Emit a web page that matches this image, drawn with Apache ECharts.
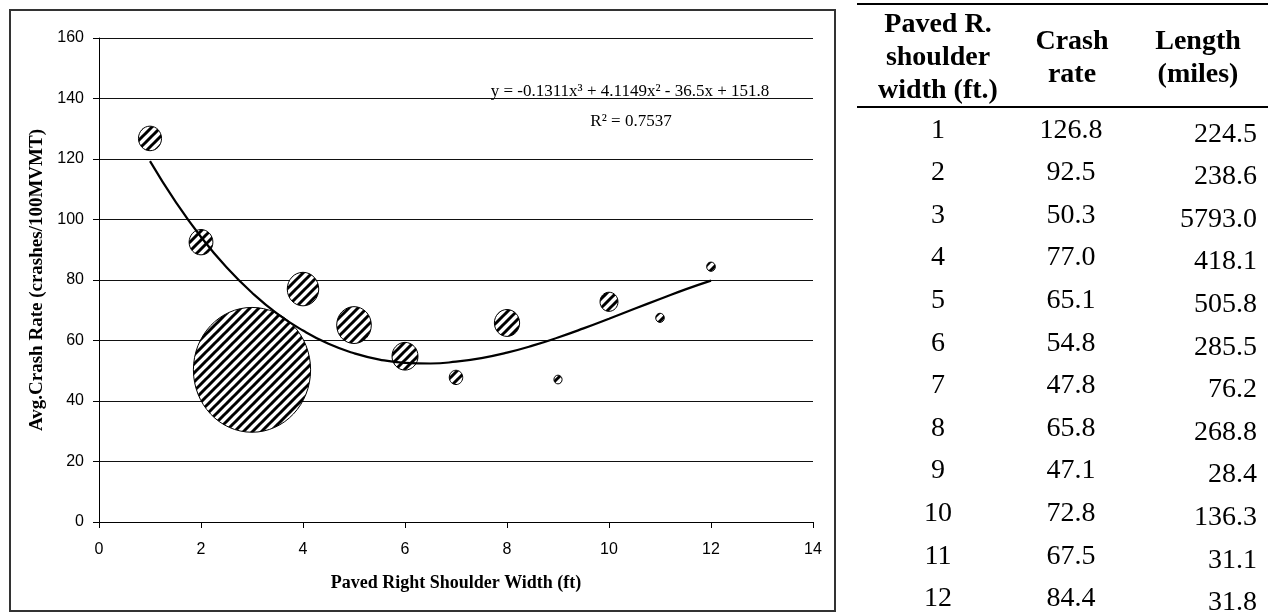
<!DOCTYPE html>
<html><head><meta charset="utf-8">
<script src="https://cdn.jsdelivr.net/npm/echarts@6/dist/echarts.min.js"></script>
<style>
html,body{margin:0;padding:0;background:#fff;}
#wrap{position:relative;width:1268px;height:616px;overflow:hidden;background:#fff;}
#chart{position:absolute;left:0;top:0;width:1268px;height:616px;}
#table{position:absolute;left:0;top:0;width:1268px;height:616px;font-family:"Liberation Serif","Times New Roman",serif;color:#000;pointer-events:none;}
.t{position:absolute;white-space:nowrap;font-size:28px;line-height:28px;}
.h{font-weight:bold;text-align:center;width:300px;}
.rule{position:absolute;background:#000;height:2px;}
</style></head><body>
<div id="wrap"><div id="chart"></div><div id="table"></div></div>
<script>
// ---- data ----
var shoulderWidths = [1, 2, 3, 4, 5, 6, 7, 8, 9, 10, 11, 12];
var crashRates = [126.8, 92.5, 50.3, 77.0, 65.1, 54.8, 47.8, 65.8, 47.1, 72.8, 67.5, 84.4];
var lengthsMiles = [224.5, 238.6, 5793.0, 418.1, 505.8, 285.5, 76.2, 268.8, 28.4, 136.3, 31.1, 31.8];
// trend curve
var trendX = [1, 1.5, 2, 2.5, 3, 3.5, 4, 4.5, 5, 5.5, 6, 6.5, 7, 7.5, 8, 8.5, 9, 9.5, 10, 10.5, 11, 11.5, 12];
var trendY = [119.3, 105.9, 94.2, 84.2, 75.8, 68.8, 63.3, 58.9, 55.8, 53.7, 52.6, 52.4, 53.0, 54.2, 56.0, 58.3, 61.0, 64.0, 67.2, 70.5, 73.7, 76.9, 79.8];
var equationText = 'y = -0.1311x\u00B3 + 4.1149x\u00B2 - 36.5x + 151.8';
var r2Text = 'R\u00B2 = 0.7537';
var xAxisTitle = 'Paved Right Shoulder Width (ft)';
var yAxisTitle = 'Avg.Crash Rate (crashes/100MVMT)';
var tableHeaders = [['Paved R.', 'shoulder', 'width (ft.)'], ['Crash', 'rate'], ['Length', '(miles)']];

// ---- stripe pattern ----
function makeStripe() {
  var n = 9, c = document.createElement('canvas');
  c.width = n; c.height = n;
  var g = c.getContext('2d');
  g.fillStyle = '#fff'; g.fillRect(0, 0, n, n);
  g.strokeStyle = '#000'; g.lineWidth = 3;
  g.beginPath();
  for (var k = -1; k <= 1; k++) { g.moveTo(k * n - 1, n + 1); g.lineTo(k * n + n + 1, -1); }
  g.stroke();
  return c;
}
var stripe = makeStripe();

var bubbleData = shoulderWidths.map(function (w, i) { return [w, crashRates[i], lengthsMiles[i]]; });
var trendData = trendX.map(function (x, i) { return [x, trendY[i]]; });

var chart = echarts.init(document.getElementById('chart'), null, { renderer: 'canvas' });
var serif = '"Liberation Serif", "Times New Roman", serif';
var sans = '"Liberation Sans", Arial, sans-serif';
chart.setOption({
  animation: false,
  grid: { left: 99, right: 455, top: 38, bottom: 94, containLabel: false },
  xAxis: {
    type: 'value', min: 0, max: 14, interval: 2,
    axisLine: { show: true, lineStyle: { color: '#000', width: 1 } },
    axisTick: { show: true, length: 6, inside: false, lineStyle: { color: '#000' } },
    axisLabel: { color: '#000', fontSize: 16, fontFamily: sans, margin: 20 },
    splitLine: { show: false },
    name: xAxisTitle, nameLocation: 'middle', nameGap: 52,
    nameTextStyle: { fontFamily: serif, fontWeight: 'bold', fontSize: 18, color: '#000' }
  },
  yAxis: {
    type: 'value', min: 0, max: 160, interval: 20,
    axisLine: { show: true, lineStyle: { color: '#000', width: 1 } },
    axisTick: { show: true, length: 6, inside: false, lineStyle: { color: '#000' } },
    axisLabel: { color: '#000', fontSize: 16, fontFamily: sans, margin: 15 },
    splitLine: { show: true, lineStyle: { color: '#111', width: 1 } },
    name: yAxisTitle, nameLocation: 'middle', nameGap: 51, nameRotate: 90,
    nameTextStyle: { fontFamily: serif, fontWeight: 'bold', fontSize: 19, color: '#000' }
  },
  series: [
    {
      type: 'custom', z: 3,
      data: bubbleData,
      encode: { x: 0, y: 1 },
      renderItem: function (params, api) {
        var c = api.coord([api.value(0), api.value(1)]);
        var rx = 0.77 * Math.sqrt(api.value(2));
        var ry = rx * 1.065;
        return {
          type: 'ellipse',
          shape: { cx: c[0], cy: c[1], rx: rx, ry: ry },
          style: { fill: { type: 'pattern', image: stripe, repeat: 'repeat' }, stroke: '#000', lineWidth: 1 }
        };
      }
    },
    {
      type: 'line', z: 5, data: trendData, smooth: true, showSymbol: false, symbol: 'none',
      lineStyle: { color: '#000', width: 2.2 }
    }
  ],
  graphic: [
    { type: 'rect', shape: { x: 10, y: 10, width: 825, height: 601 }, style: { fill: null, stroke: '#333', lineWidth: 2 }, z: 10 },
    { type: 'text', x: 630, y: 92, style: { text: equationText, fontSize: 17, fontFamily: serif, fill: '#000', align: 'center', verticalAlign: 'middle' }, z: 10 },
    { type: 'text', x: 631, y: 122, style: { text: r2Text, fontSize: 17, fontFamily: serif, fill: '#000', align: 'center', verticalAlign: 'middle' }, z: 10 }
  ]
});

// ---- table ----
(function () {
  var t = document.getElementById('table');
  function add(html) { t.insertAdjacentHTML('beforeend', html); }
  add('<div class="rule" style="left:857px;top:3px;width:411px;"></div>');
  add('<div class="rule" style="left:857px;top:106px;width:411px;"></div>');
  var colCenters = [938, 1072, 1198];
  var lineH = 33, midY = 56;
  tableHeaders.forEach(function (lines, c) {
    var n = lines.length;
    lines.forEach(function (s, k) {
      var cy = midY + (k - (n - 1) / 2) * lineH;
      add('<div class="t h" style="left:' + (colCenters[c] - 150) + 'px;top:' + (cy - 14) + 'px;">' + s + '</div>');
    });
  });
  shoulderWidths.forEach(function (w, i) {
    var cy = 128.5 + 42.6 * i;
    add('<div class="t" style="left:' + (938 - 100) + 'px;width:200px;text-align:center;top:' + (cy - 14) + 'px;">' + w + '</div>');
    add('<div class="t" style="left:' + (1071 - 100) + 'px;width:200px;text-align:center;top:' + (cy - 14) + 'px;">' + crashRates[i].toFixed(1) + '</div>');
    add('<div class="t" style="left:' + (1257 - 200) + 'px;width:200px;text-align:right;top:' + (cy - 10) + 'px;">' + lengthsMiles[i].toFixed(1) + '</div>');
  });
})();
</script>
</body></html>
